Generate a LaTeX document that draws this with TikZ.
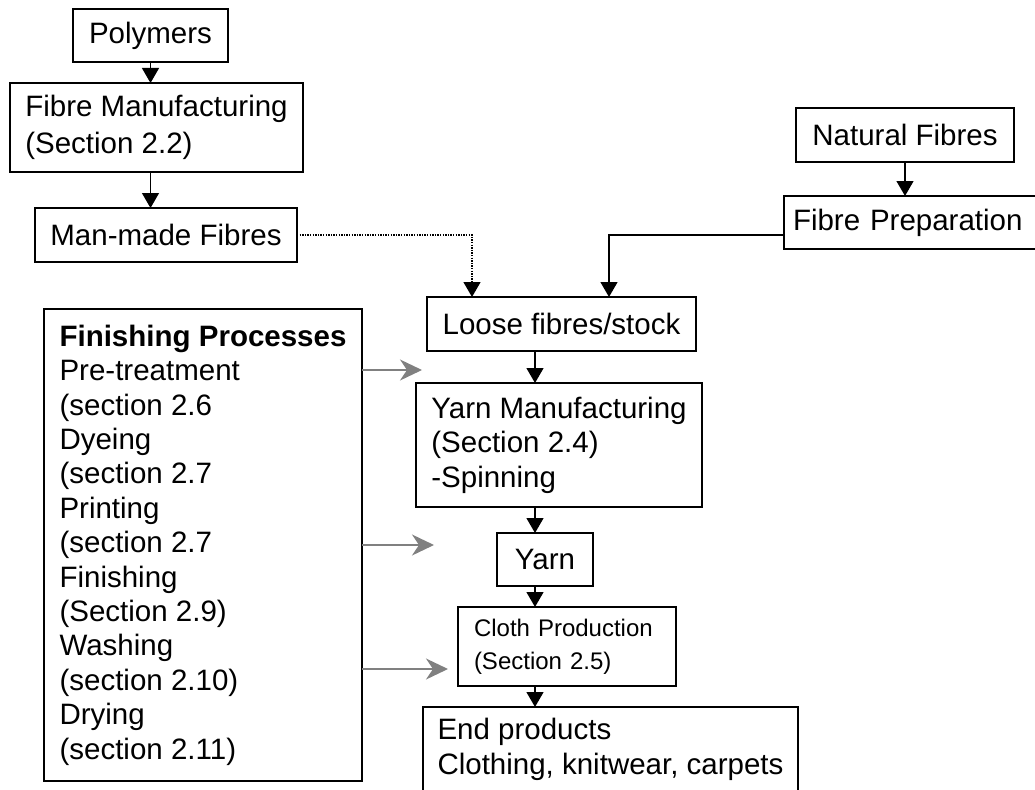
\documentclass[tikz,border=0pt]{standalone}
\usepackage{fontspec}
\setmainfont{Liberation Sans}
\usetikzlibrary{arrows.meta}
\definecolor{feedgray}{RGB}{128,128,128}
\begin{document}
\begin{tikzpicture}[x=1pt,y=-1pt,
  box/.style={draw, line width=1.5pt, inner sep=0pt, outer sep=0pt,
    anchor=north west, align=left, font=\fontsize{29.5}{35}\selectfont},
  flow/.style={line width=1.3pt, -{Triangle[width=17pt,length=15pt]}},
  dottedflow/.style={flow, dash pattern=on 1.3pt off 1.3pt},
  feed/.style={draw=feedgray, line width=1.3pt,
    -{Stealth[length=22pt,width=21pt,inset=7pt,fill=feedgray]}}]
\useasboundingbox (0,0) rectangle (1035,789);
\clip (0,0) rectangle (1035,789);

% process boxes
\node[box, minimum width=155pt, minimum height=53pt] (poly) at (73,9) {Polymers};
\node[box, minimum width=293pt, minimum height=89pt, font=\fontsize{29.5}{37}\selectfont] (fman) at (10,83) {Fibre Manufacturing\\(Section 2.2)};
\node[box, minimum width=262pt, minimum height=54pt] (mmf) at (35,208) {Man-made Fibres};
\node[box, minimum width=218pt, minimum height=54pt] (nat) at (796,108) {Natural Fibres};
\node[box, text width=252pt, inner xsep=9pt, minimum height=53pt] (prep) at (784,196) {Fibre Preparation};
\node[box, minimum width=269pt, minimum height=54pt] (loose) at (427,297) {Loose fibres/stock};
\node[box, minimum width=286pt, minimum height=124pt, font=\fontsize{29.5}{34.5}\selectfont] (yarnm) at (416,383) {Yarn Manufacturing\\(Section 2.4)\\-Spinning};
\node[box, minimum width=96pt, minimum height=53pt] (yarn) at (497,533) {Yarn};
\node[box, text width=186pt, inner xsep=16pt, minimum height=79pt,
  font=\fontsize{24}{33}\selectfont] (cloth) at (458,607) {Cloth Production\\(Section 2.5)};
\node[box, minimum width=375pt, inner ysep=11pt] (endp) at (423,707) {End products\\Clothing, knitwear, carpets};
\node[box, minimum width=318pt, minimum height=472pt,
  font=\fontsize{29.5}{34.4}\selectfont] (fin) at (44,309)
  {\textbf{Finishing Processes}\\Pre-treatment\\(section 2.6\\Dyeing\\(section 2.7\\Printing\\(section 2.7\\Finishing\\(Section 2.9)\\Washing\\(section 2.10)\\Drying\\(section 2.11)};

% connector positions
\coordinate (spine) at (535,0);
\coordinate (in1) at (472,297);
\coordinate (in2) at (609,297);
\coordinate (g1) at (422,370);
\coordinate (g2) at (434,545);
\coordinate (g3) at (448,669);

% main flow
\draw[flow] (poly.south) -- (poly.south |- fman.north);
\draw[flow] (poly.south |- fman.south) -- (poly.south |- mmf.north);
\draw[flow] (nat.south) -- (nat.south |- prep.north);
\draw[dottedflow] (mmf.east) -| (in1);
\draw[flow] (prep.west |- mmf.east) -| (in2);
\draw[flow] (loose.south -| spine) -- (yarnm.north -| spine);
\draw[flow] (yarnm.south -| spine) -- (yarn.north -| spine);
\draw[flow] (yarn.south -| spine) -- (cloth.north -| spine);
\draw[flow] (cloth.south -| spine) -- (endp.north -| spine);

% finishing process inputs
\draw[feed] (fin.east |- g1) -- (g1);
\draw[feed] (fin.east |- g2) -- (g2);
\draw[feed] (fin.east |- g3) -- (g3);
\end{tikzpicture}
\end{document}
